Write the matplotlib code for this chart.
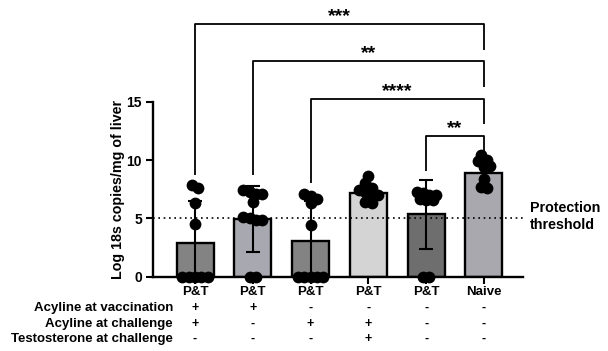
import matplotlib
matplotlib.use("Agg")
import matplotlib.pyplot as plt
from matplotlib.transforms import blended_transform_factory
import numpy as np

plt.rcParams['font.family'] = ['Liberation Sans', 'DejaVu Sans']
plt.rcParams['font.weight'] = 'bold'

# Group labels and per-group summary (mean +/- SD) of log 18s copies / mg liver
groups = ["P&T", "P&T", "P&T", "P&T", "P&T", "Naive"]
means = [2.85, 4.95, 3.05, 7.2, 5.35, 8.85]
sds = [3.65, 2.85, 3.4, 0.7, 2.95, 1.0]

# Individual animals
pts_g1 = [7.9, 7.6, 6.3, 4.5, 0, 0, 0, 0, 0]
pts_g2 = [7.4, 7.3, 7.1, 7.1, 6.4, 5.1, 5.0, 4.9, 4.9, 0, 0]
pts_g3 = [7.1, 6.9, 6.7, 6.3, 4.4, 0, 0, 0, 0, 0]
pts_g4 = [8.6, 8.0, 7.6, 7.4, 7.3, 7.2, 7.0, 6.9, 6.4, 6.3]
pts_g5 = [7.3, 7.2, 7.0, 7.0, 6.7, 6.6, 6.6, 0, 0]
pts_g6 = [10.4, 10.0, 9.9, 9.6, 9.5, 9.4, 8.4, 7.7, 7.6]
points = [pts_g1, pts_g2, pts_g3, pts_g4, pts_g5, pts_g6]

# Treatment design table
acyline_vacc = ["+", "+", "-", "-", "-", "-"]
acyline_chal = ["+", "-", "+", "+", "-", "-"]
testo_chal = ["-", "-", "-", "+", "-", "-"]
row_names = ["Acyline at vaccination", "Acyline at challenge", "Testosterone at challenge"]

threshold = 5
comparisons = [(0, 5, "***"), (1, 5, "**"), (2, 5, "****"), (4, 5, "**")]

bar_colors = ["#838383", "#a8a8b0", "#838383", "#d4d4d4", "#6e6e6e", "#a8a8ae"]


def spread(vals, step=0.11, tol=0.45):
    """Horizontal offsets so that points with similar values sit side by side."""
    vals = np.asarray(vals, dtype=float)
    order = np.argsort(-vals, kind="stable")
    clusters = []
    for i in order:
        if clusters and abs(vals[clusters[-1][0]] - vals[i]) <= tol:
            clusters[-1].append(i)
        else:
            clusters.append([i])
    offsets = np.zeros(len(vals))
    for c in clusters:
        n = len(c)
        offs = (np.arange(n) - (n - 1) / 2) * step
        for k, i in enumerate(c):
            offsets[i] = offs[k]
    return offsets


fig = plt.figure(figsize=(6.08, 3.51), dpi=100)
ax = fig.add_axes([153 / 608, 74.3 / 351, 370 / 608, 276.7 / 351])

x = np.arange(len(groups))
ax.bar(x, means, width=0.64, color=bar_colors, edgecolor="black", linewidth=1.7, zorder=2)
ax.errorbar(x, means, yerr=sds, fmt="none", ecolor="black", elinewidth=1.5,
            capsize=5, capthick=1.5, zorder=3)
ax.axhline(threshold, color="black", ls=(0, (1, 2.2)), lw=1.2, zorder=2.5)

for xi, vals in zip(x, points):
    ax.scatter(xi + spread(vals), vals, s=72, color="black", zorder=4,
               clip_on=False, linewidths=0)

# Significance brackets
bracket_tops = [21.65, 18.5, 15.2, 12.1]
left_feet = [8.7, 8.7, 8.0, 9.1]
right_feet = [19.4, 16.3, 13.1, 10.2]
for (i, j, lab), top, lf, rf in zip(comparisons, bracket_tops, left_feet, right_feet):
    ax.plot([i, i, j, j], [lf, top, top, rf], color="black", lw=1.3,
            clip_on=False, solid_capstyle="butt")
    ax.text((i + j) / 2, top - 0.1, lab, ha="center", va="bottom",
            fontsize=14, fontweight="bold")

ax.set_xlim(-0.727, 5.675)
ax.set_ylim(0, 23.72)
ax.set_yticks([0, 5, 10, 15])
ax.set_xticks(x)
ax.set_xticklabels(groups)
for s in ["top", "right"]:
    ax.spines[s].set_visible(False)
ax.spines["left"].set_bounds(0, 15)
for s in ["left", "bottom"]:
    ax.spines[s].set_linewidth(1.7)
ax.tick_params(axis="y", length=5, width=1.5, labelsize=10, pad=3)
ax.tick_params(axis="x", length=5, width=1.5, labelsize=9.5, pad=1.5)
for lab in ax.get_xticklabels() + ax.get_yticklabels():
    lab.set_fontweight("bold")

fig.text(118 / 608, 1 - 189 / 351, "Log 18s copies/mg of liver", rotation=90,
         ha="center", va="center", fontsize=10.3, fontweight="bold")

fig.text(530 / 608, 1 - 216.5 / 351, "Protection\nthreshold", ha="left",
         va="center", fontsize=10.3, fontweight="bold")

# Treatment table beneath the axis
trans = blended_transform_factory(ax.transData, fig.transFigure)
row_y = [1 - 308 / 351, 1 - 323.5 / 351, 1 - 339 / 351]
for name, signs, yy in zip(row_names, [acyline_vacc, acyline_chal, testo_chal], row_y):
    fig.text(173 / 608, yy, name, ha="right", va="center", fontsize=9.5, fontweight="bold")
    for xi, sgn in zip(x, signs):
        ax.text(xi, yy, sgn, transform=trans, ha="center", va="center",
                fontsize=9, fontweight="bold")

fig.savefig("out.png", dpi=100)
